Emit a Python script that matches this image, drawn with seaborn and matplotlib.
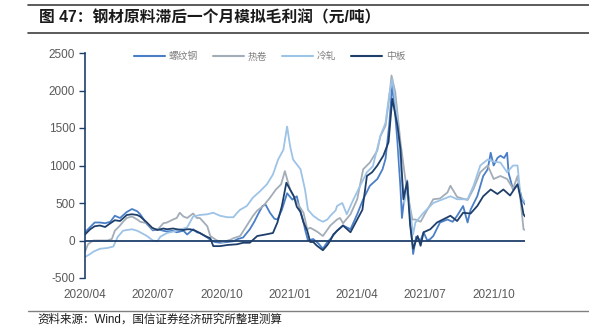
import numpy as np
import pandas as pd
import matplotlib
matplotlib.use("Agg")
import matplotlib.pyplot as plt
import matplotlib.dates as mdates
from matplotlib.lines import Line2D
import seaborn as sns

# ---------------- data (day offsets from 2020-04-01, values in 元/吨) ----------------
start = pd.Timestamp("2020-04-01")

rebar_day = [0, 7, 13, 20, 27, 34, 40, 47, 56, 63, 70, 74, 83, 91, 98, 105, 110, 118, 123, 132,
             137, 145, 150, 154, 161, 168, 174, 181, 191, 199, 205, 212, 221, 227, 231, 238, 242,
             248, 254, 258, 264, 271, 278, 284, 289, 293, 295, 299, 306, 313, 319, 325, 329, 338,
             346, 356, 365, 373, 382, 392, 399, 403, 408, 412, 415, 419, 423, 425, 429, 432, 436,
             440, 444, 450, 454, 459, 463, 467, 476, 486, 493, 499, 507, 513, 517, 526, 534, 540,
             544, 548, 553, 557, 562, 566, 568, 574, 581, 586, 590]
rebar_val = [110, 180, 240, 240, 230, 250, 330, 300, 380, 420, 390, 350, 220, 135, 150, 130, 120, 130, 110, 130,
             80, 150, 110, 100, 60, 10, -20, -30, -20, -10, 20, 40, 150, 250, 330, 460, 480,
             370, 290, 280, 410, 630, 545, 590, 380, 250, 150, 0, 20, -40, -110, -20, 20, 130,
             200, 150, 350, 550, 730, 820, 950, 1090, 1550, 2080, 1800, 1310, 700, 300, 650, 800, 300,
             -180, 50, 0, 110, 0, 20, 60, 240, 280, 250, 330, 460, 240, 410, 590, 860, 950,
             1170, 1000, 1100, 1130, 1100, 1170, 900, 680, 750, 550, 480]

hr_day = [0, 4, 11, 20, 30, 36, 40, 47, 51, 56, 63, 70, 74, 83, 91, 98, 105, 110, 118, 123, 127, 132,
          137, 145, 150, 154, 164, 168, 177, 185, 195, 199, 208, 217, 225, 231, 239, 248, 256, 263,
          268, 275, 284, 293, 298, 302, 311, 319, 329, 338, 342, 346, 356, 365, 373, 382, 392, 396,
          403, 408, 411, 416, 423, 429, 433, 439, 443, 450, 459, 467, 476, 486, 490, 499, 513, 521,
          530, 540, 548, 557, 566, 574, 580, 584, 588, 590]
hr_val = [-150, -50, 0, 0, 0, 20, 130, 200, 250, 300, 320, 280, 250, 230, 150, 150, 230, 240, 280, 300, 370, 320,
          300, 360, 300, 300, 190, 60, 0, -20, 10, 30, 60, 200, 325, 400, 460, 570, 680, 750,
          925, 680, 510, 370, 150, 170, 120, 60, 200, 280, 300, 230, 350, 550, 950, 1040, 1200, 1390,
          1530, 1900, 2200, 1980, 1310, 860, 600, 280, 280, 250, 410, 550, 560, 640, 730, 580, 540, 690,
          910, 1000, 820, 860, 820, 690, 860, 540, 150, 140]

cr_day = [0, 7, 11, 20, 30, 38, 44, 51, 56, 63, 70, 74, 83, 91, 97, 101, 110, 123, 137, 145, 154,
          164, 172, 181, 191, 199, 204, 208, 217, 225, 235, 244, 252, 259, 266, 271, 275, 279, 289,
          295, 299, 306, 313, 319, 325, 329, 336, 338, 345, 351, 360, 369, 378, 386, 396, 403, 408,
          412, 419, 423, 428, 432, 436, 440, 443, 454, 467, 480, 490, 499, 513, 521, 530, 540, 548,
          557, 566, 574, 580, 584, 590]
cr_val = [-220, -180, -150, -110, -100, -80, 50, 130, 140, 150, 130, 110, 60, 0, -10, 50, 100, 130, 175, 320, 340,
          350, 370, 330, 310, 310, 370, 410, 460, 570, 660, 750, 880, 1080, 1210, 1520, 1260, 1080, 950,
          680, 410, 330, 280, 250, 280, 330, 400, 460, 500, 350, 550, 730, 910, 990, 1390, 1570, 1950,
          2150, 1620, 1000, 500, 700, 400, 80, 240, 370, 500, 550, 590, 550, 550, 730, 1000, 1080, 1050,
          1040, 910, 1000, 1000, 590, 510]

plate_day = [0, 7, 13, 20, 27, 34, 40, 47, 56, 63, 70, 74, 83, 90, 97, 105, 110, 118, 123, 132, 137,
             141, 148, 154, 161, 168, 172, 181, 191, 204, 212, 221, 231, 242, 252, 258, 264, 270, 275,
             280, 284, 289, 293, 298, 302, 306, 311, 315, 319, 325, 329, 333, 338, 346, 356, 365, 372,
             378, 385, 392, 400, 407, 412, 419, 423, 427, 432, 436, 440, 446, 450, 454, 463, 472, 480,
             490, 499, 507, 517, 526, 534, 544, 553, 561, 570, 580, 584, 588, 590]
plate_val = [80, 150, 190, 200, 180, 230, 270, 260, 340, 350, 340, 320, 240, 170, 140, 160, 150, 160, 150, 140, 150,
             150, 130, 100, 60, 30, -75, -75, -60, -50, -30, -30, 60, 80, 100, 240, 460, 770, 680,
             590, 450, 380, 240, 130, -20, -20, -70, -100, -130, -60, 0, 80, 130, 200, 110, 280, 410,
             860, 910, 1000, 1130, 1310, 1890, 1530, 1220, 550, 780, 200, -110, 60, -70, 110, 150, 240, 280,
             330, 260, 370, 360, 460, 590, 680, 620, 680, 600, 750, 570, 350, 320]

series_names = ["螺纹钢", "热卷", "冷轧", "中板"]
series_colors = ["#4A7FC8", "#A3ADB8", "#9DC3E6", "#1F3F6B"]
yticks = [-500, 0, 500, 1000, 1500, 2000, 2500]
xtick_dates = ["2020-04-01", "2020-07-01", "2020-10-01", "2021-01-01", "2021-04-01", "2021-07-01", "2021-10-01"]

title_text = "图 47：钢材原料滞后一个月模拟毛利润（元/吨）"
source_text = "资料来源：Wind，国信证券经济研究所整理测算"

# ---------------- build long table ----------------
frames = []
for name, days, vals in zip(series_names,
                            [rebar_day, hr_day, cr_day, plate_day],
                            [rebar_val, hr_val, cr_val, plate_val]):
    frames.append(pd.DataFrame({
        "date": start + pd.to_timedelta(days, unit="D"),
        "value": vals,
        "series": name,
    }))
df = pd.concat(frames, ignore_index=True)

# ---------------- style ----------------
sns.set_theme(style="white")
plt.rcParams["font.family"] = ["Liberation Sans", "Noto Sans CJK SC", "DejaVu Sans"]
plt.rcParams["axes.unicode_minus"] = False

W, H = 589, 334
fig = plt.figure(figsize=(W / 100, H / 100), dpi=100)
ax = fig.add_axes([85 / W, 1 - 278 / H, (525 - 85) / W, (278 - 53) / H])

sns.lineplot(data=df, x="date", y="value", hue="series", hue_order=series_names,
             palette=series_colors, linewidth=1.3, ax=ax, legend=False,
             estimator=None, sort=True)

ax.axhline(0, color="#1F3F6B", linewidth=1.3, zorder=5)

ax.set_xlim(start, start + pd.Timedelta(days=590))
ax.set_ylim(-500, 2500)
ax.set_yticks(yticks)
ax.set_yticklabels([str(v) for v in yticks])
ax.set_xticks(pd.to_datetime(xtick_dates))
ax.xaxis.set_major_formatter(mdates.DateFormatter("%Y/%m"))
ax.set_xlabel("")
ax.set_ylabel("")

for s in ["top", "right", "bottom"]:
    ax.spines[s].set_visible(False)
ax.spines["left"].set_color("#1F3F6B")
ax.spines["left"].set_linewidth(1.2)
ax.tick_params(axis="y", direction="out", length=4, width=1, color="#1F3F6B",
               labelsize=8.5, labelcolor="#595959", pad=3, left=True)
ax.tick_params(axis="x", length=0, labelsize=8.5, labelcolor="#595959", pad=8)

handles = [Line2D([0], [0], color=c, lw=1.5) for c in series_colors]
leg = ax.legend(handles, series_names, loc="center", bbox_to_anchor=(0.42, 0.985),
                ncol=4, frameon=False, fontsize=7, handlelength=3.2, columnspacing=1.5,
                handletextpad=0.4)
for t in leg.get_texts():
    t.set_color("#7F7F7F")

# title & source decoration
fig.add_artist(Line2D([28 / W, 1], [1 - 5 / H, 1 - 5 / H], color="#404040", lw=1.2))
fig.add_artist(Line2D([28 / W, 1], [1 - 33 / H, 1 - 33 / H], color="#404040", lw=1.2))
fig.text(39 / W, 1 - 18 / H, title_text, fontsize=11.3, fontweight="bold",
         va="center", ha="left", color="#1a1a1a")
fig.add_artist(Line2D([28 / W, 1], [1 - 311 / H, 1 - 311 / H], color="#808080", lw=1.0))
fig.text(37 / W, 1 - 320 / H, source_text, fontsize=8.3, va="center", ha="left", color="#1a1a1a")

fig.savefig("out.png", dpi=100)
